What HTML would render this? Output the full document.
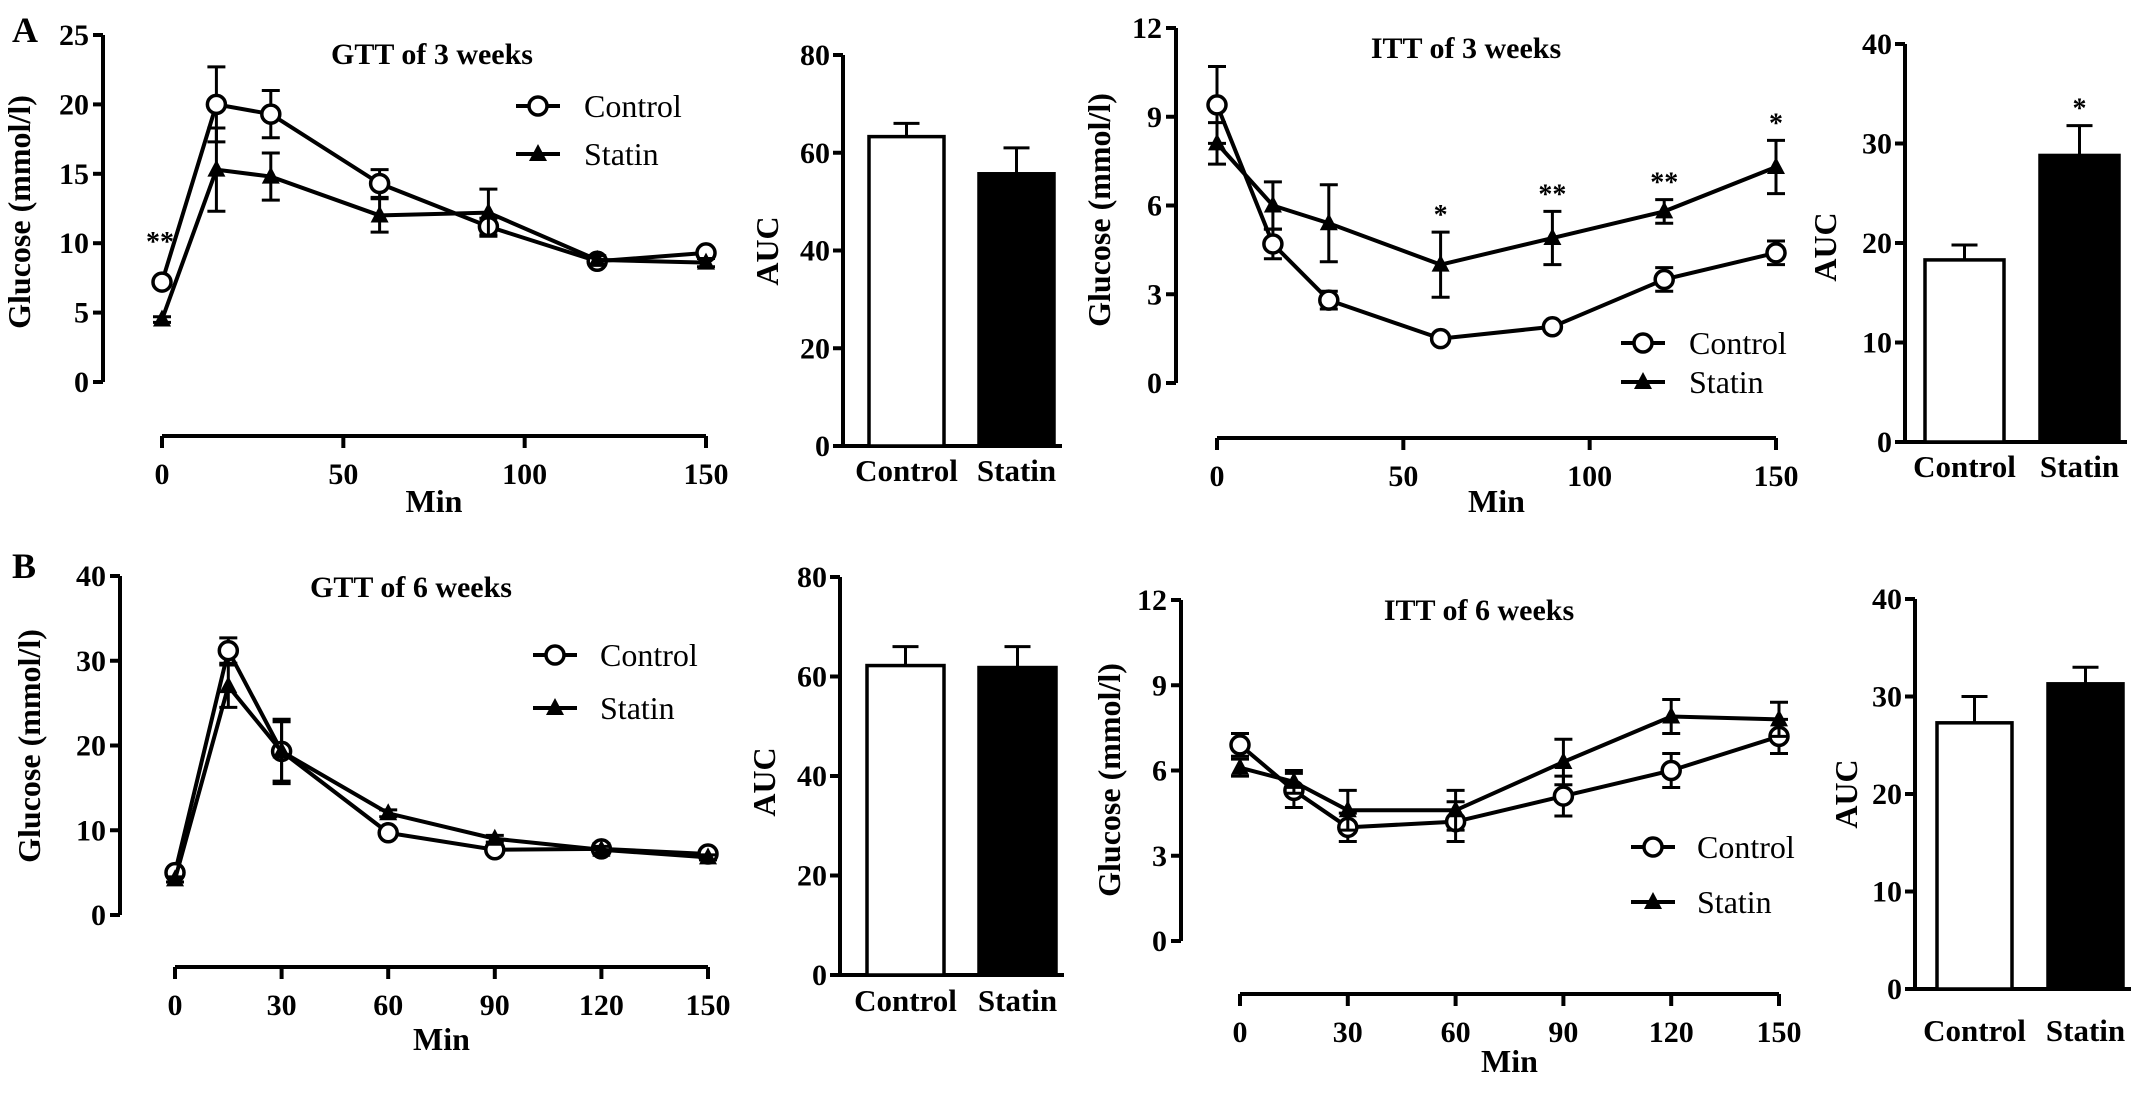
<!DOCTYPE html>
<html><head><meta charset="utf-8">
<style>
html,body{margin:0;padding:0;background:#fff;}
svg{display:block;}
text{font-family:"Liberation Serif",serif;font-weight:bold;fill:#000;}
</style></head>
<body>
<svg id="fig" width="2150" height="1108" viewBox="0 0 2150 1108" xmlns="http://www.w3.org/2000/svg">
<text x="12" y="42" font-size="36">A</text>
<text x="12" y="578" font-size="36">B</text>
</svg>
<script>
const minutes = [0,15,30,60,90,120,150];
// GTT 3 weeks
const gtt3Control = [7.2,20,19.3,14.3,11.2,8.7,9.3];
const gtt3ControlErr = [0.3,2.7,1.7,1.0,0.6,0.3,0.3];
const gtt3Statin = [4.5,15.3,14.8,12.0,12.2,8.8,8.6];
const gtt3StatinErr = [0.2,3.0,1.7,1.2,1.7,0.3,0.3];
const gtt3Stars = ["**","","","","","",""];
// ITT 3 weeks
const itt3Control = [9.4,4.7,2.8,1.5,1.9,3.5,4.4];
const itt3ControlErr = [1.3,0.5,0.3,0.1,0.1,0.4,0.4];
const itt3Statin = [8.1,6.0,5.4,4.0,4.9,5.8,7.3];
const itt3StatinErr = [0.7,0.8,1.3,1.1,0.9,0.4,0.9];
const itt3Stars = ["","","","*","**","**","*"];
// GTT 6 weeks
const gtt6Control = [5.0,31.2,19.3,9.7,7.7,7.8,7.2];
const gtt6ControlErr = [0.5,1.5,3.8,0.4,0.5,0.6,0.4];
const gtt6Statin = [4.2,27.0,19.3,12.0,9.0,7.7,6.8];
const gtt6StatinErr = [0.3,2.5,3.5,0.4,0.4,0.4,0.3];
// ITT 6 weeks
const itt6Control = [6.9,5.3,4.0,4.2,5.1,6.0,7.2];
const itt6ControlErr = [0.4,0.6,0.5,0.7,0.7,0.6,0.6];
const itt6Statin = [6.1,5.6,4.6,4.6,6.3,7.9,7.8];
const itt6StatinErr = [0.3,0.4,0.7,0.7,0.8,0.6,0.6];
// AUC bars
const barGroups = ["Control","Statin"];
const aucGtt3 = [63.3,55.7];
const aucGtt3Err = [2.7,5.3];
const aucItt3 = [18.3,28.8];
const aucItt3Err = [1.5,3.0];
const aucItt3Stars = ["","*"];
const aucGtt6 = [62.2,61.8];
const aucGtt6Err = [3.8,4.2];
const aucItt6 = [27.3,31.3];
const aucItt6Err = [2.7,1.7];
const gtt3YTicks = [0,5,10,15,20,25];
const itt3YTicks = [0,3,6,9,12];
const gtt6YTicks = [0,10,20,30,40];
const itt6YTicks = [0,3,6,9,12];
const xTicks3 = [0,50,100,150];
const xTicks6 = [0,30,60,90,120,150];
const aucTicks80 = [0,20,40,60,80];
const aucTicks40 = [0,10,20,30,40];

const NS = "http://www.w3.org/2000/svg";
const svg = document.getElementById("fig");
function mk(tag, attrs, parent){
  const e = document.createElementNS(NS, tag);
  for (const k in attrs) e.setAttribute(k, attrs[k]);
  (parent||svg).appendChild(e);
  return e;
}
function txt(parent, x, y, s, size, anchor, name){
  const t = mk("text", {x:x, y:y, "font-size":size, "text-anchor":anchor||"middle"}, parent);
  t.textContent = s;
  
  
  return t;
}

function linePanel(cfg){
  const g = mk("g", {});
  
  
  const ymax = cfg.yTicks[cfg.yTicks.length-1];
  const sx = v => cfg.x0 + (v/150)*(cfg.x1-cfg.x0);
  const sy = v => cfg.yb - (v/ymax)*(cfg.yb-cfg.yt);
  const ya = mk("line", {x1:cfg.ax, y1:cfg.yt, x2:cfg.ax, y2:cfg.yb, stroke:"#000","stroke-width":4}, g);
  
  
  cfg.yTicks.forEach(v => {
    mk("line", {x1:cfg.ax-10, y1:sy(v), x2:cfg.ax, y2:sy(v), stroke:"#000","stroke-width":4}, g);
    txt(g, cfg.ax-14, sy(v)+10, String(v), 30, "end", "y-tick-label");
  });
  const xa = mk("line", {x1:cfg.x0, y1:cfg.xAxY, x2:cfg.x1, y2:cfg.xAxY, stroke:"#000","stroke-width":4}, g);
  
  
  cfg.xTicks.forEach(v => {
    mk("line", {x1:sx(v), y1:cfg.xAxY, x2:sx(v), y2:cfg.xAxY+12, stroke:"#000","stroke-width":4}, g);
    txt(g, sx(v), cfg.xAxY+48, String(v), 30, "middle", "x-tick-label");
  });
  txt(g, (cfg.x0+cfg.x1)/2, cfg.minY, "Min", 32, "middle", "x-axis-title");
  const yl = txt(g, 0, 0, "Glucose (mmol/l)", 32, "middle", "y-axis-title");
  yl.setAttribute("transform", `translate(${cfg.ylx},${cfg.yly}) rotate(-90)`);
  txt(g, cfg.tx, cfg.ty, cfg.title, 30, "middle", "chart-title");
  const series = [
    {vals:cfg.control, err:cfg.controlErr, marker:"circle", name:"control"},
    {vals:cfg.statin, err:cfg.statinErr, marker:"tri", name:"statin"}
  ];
  series.forEach(s => {
    const pts = minutes.map((m,i)=>sx(m)+","+sy(s.vals[i])).join(" ");
    const pl = mk("polyline", {points:pts, fill:"none", stroke:"#000","stroke-width":4}, g);
    
    
    minutes.forEach((m,i)=>{
      const x = sx(m), y1 = sy(s.vals[i]+s.err[i]), y2 = sy(s.vals[i]-s.err[i]);
      mk("line", {x1:x, y1:y1, x2:x, y2:y2, stroke:"#000","stroke-width":3}, g);
      mk("line", {x1:x-9, y1:y1, x2:x+9, y2:y1, stroke:"#000","stroke-width":3}, g);
      mk("line", {x1:x-9, y1:y2, x2:x+9, y2:y2, stroke:"#000","stroke-width":3}, g);
      drawMarker(g, s.marker, x, sy(s.vals[i]), s.name+'-point');
    });
  });
  if (cfg.stars) minutes.forEach((m,i)=>{
    if (!cfg.stars[i]) return;
    const top = Math.max(cfg.control[i]+cfg.controlErr[i], cfg.statin[i]+cfg.statinErr[i]);
    if (m === 0) txt(g, sx(m)-2, sy(10)+8, cfg.stars[i], 28, "middle", "significance-star");
    else txt(g, sx(m), sy(top)-8, cfg.stars[i], 28, "middle", "significance-star");
  });
  const L = cfg.legend;
  [[L.cy,"circle","Control"],[L.sy,"tri","Statin"]].forEach(([y,mkType,label])=>{
    const lg = mk("g", {}, g);
    
    
    mk("line", {x1:L.x-22, y1:y, x2:L.x+22, y2:y, stroke:"#000","stroke-width":4}, lg);
    drawMarker(lg, mkType, L.x, y, 'legend-marker');
    const t = mk("text", {x:L.tx, y:y+11, "font-size":32}, lg);
    t.setAttribute("style","font-weight:normal");
    t.textContent = label;
    
    
  });
}
function drawMarker(g, type, x, y, name){
  let e;
  if (type === "circle") e = mk("circle", {cx:x, cy:y, r:9, fill:"#fff", stroke:"#000","stroke-width":3.5}, g);
  else e = mk("polygon", {points:`${x},${y-10} ${x-9},${y+7} ${x+9},${y+7}`, fill:"#000"}, g);
  
  
}

function barPanel(cfg){
  const g = mk("g", {});
  
  
  const ymax = cfg.ticks[cfg.ticks.length-1];
  const sy = v => cfg.yb - (v/ymax)*(cfg.yb-cfg.yt);
  const ya = mk("line", {x1:cfg.ax, y1:cfg.yt, x2:cfg.ax, y2:cfg.yb, stroke:"#000","stroke-width":4}, g);
  
  
  const xa = mk("line", {x1:cfg.ax, y1:cfg.yb, x2:cfg.bx[1]+cfg.bw+8, y2:cfg.yb, stroke:"#000","stroke-width":4}, g);
  
  
  cfg.ticks.forEach(v => {
    mk("line", {x1:cfg.ax-10, y1:sy(v), x2:cfg.ax, y2:sy(v), stroke:"#000","stroke-width":4}, g);
    txt(g, cfg.ax-13, sy(v)+10, String(v), 30, "end", "y-tick-label");
  });
  const yl = txt(g, 0, 0, "AUC", 32, "middle", "y-axis-title");
  yl.setAttribute("transform", `translate(${cfg.ylx},${cfg.yly}) rotate(-90)`);
  barGroups.forEach((name,i)=>{
    const x = cfg.bx[i], v = cfg.vals[i], e = cfg.err[i];
    const yTop = sy(v+e);
    mk("line", {x1:x+cfg.bw/2, y1:yTop, x2:x+cfg.bw/2, y2:sy(v), stroke:"#000","stroke-width":3}, g);
    mk("line", {x1:x+cfg.bw/2-13, y1:yTop, x2:x+cfg.bw/2+13, y2:yTop, stroke:"#000","stroke-width":3}, g);
    const r = mk("rect", {x:x, y:sy(v), width:cfg.bw, height:cfg.yb-sy(v), fill:i?"#000":"#fff", stroke:"#000","stroke-width":3.5}, g);
    
    
    txt(g, x+cfg.bw/2, cfg.labY, name, 31, "middle", "x-category-label");
    if (cfg.stars && cfg.stars[i]) txt(g, x+cfg.bw/2, yTop-8, cfg.stars[i], 28, "middle", "significance-star");
  });
}

linePanel({name:"gtt-3-weeks-chart", ax:103, yt:35, yb:382, yTicks:gtt3YTicks, x0:162, x1:706, xAxY:436, xTicks:xTicks3,
  minY:512, ylx:30, yly:212, tx:432, ty:64, title:"GTT of 3 weeks",
  control:gtt3Control, controlErr:gtt3ControlErr, statin:gtt3Statin, statinErr:gtt3StatinErr, stars:gtt3Stars,
  legend:{x:538, cy:106, sy:154, tx:584}});
barPanel({name:"auc-gtt-3-weeks", ax:843, yt:55, yb:446, ticks:aucTicks80, bx:[869,979], bw:75, vals:aucGtt3, err:aucGtt3Err, ylx:778, yly:251, labY:481});
linePanel({name:"itt-3-weeks-chart", ax:1176, yt:28, yb:383, yTicks:itt3YTicks, x0:1217, x1:1776, xAxY:438, xTicks:xTicks3,
  minY:512, ylx:1110, yly:210, tx:1466, ty:58, title:"ITT of  3 weeks",
  control:itt3Control, controlErr:itt3ControlErr, statin:itt3Statin, statinErr:itt3StatinErr, stars:itt3Stars,
  legend:{x:1643, cy:343, sy:382, tx:1689}});
barPanel({name:"auc-itt-3-weeks", ax:1905, yt:44, yb:442, ticks:aucTicks40, bx:[1925,2040], bw:79, vals:aucItt3, err:aucItt3Err, stars:aucItt3Stars, ylx:1836, yly:247, labY:477});
linePanel({name:"gtt-6-weeks-chart", ax:120, yt:576, yb:915, yTicks:gtt6YTicks, x0:175, x1:708, xAxY:967, xTicks:xTicks6,
  minY:1050, ylx:40, yly:746, tx:411, ty:597, title:"GTT of 6 weeks",
  control:gtt6Control, controlErr:gtt6ControlErr, statin:gtt6Statin, statinErr:gtt6StatinErr,
  legend:{x:555, cy:655, sy:708, tx:600}});
barPanel({name:"auc-gtt-6-weeks", ax:840, yt:577, yb:975, ticks:aucTicks80, bx:[867,979], bw:77, vals:aucGtt6, err:aucGtt6Err, ylx:775, yly:782, labY:1011});
linePanel({name:"itt-6-weeks-chart", ax:1181, yt:600, yb:941, yTicks:itt6YTicks, x0:1240, x1:1779, xAxY:994, xTicks:xTicks6,
  minY:1072, ylx:1120, yly:780, tx:1479, ty:620, title:"ITT of 6 weeks",
  control:itt6Control, controlErr:itt6ControlErr, statin:itt6Statin, statinErr:itt6StatinErr,
  legend:{x:1653, cy:847, sy:902, tx:1697}});
barPanel({name:"auc-itt-6-weeks", ax:1915, yt:599, yb:989, ticks:aucTicks40, bx:[1937,2048], bw:75, vals:aucItt6, err:aucItt6Err, ylx:1857, yly:794, labY:1041});
</script>
</body></html>
